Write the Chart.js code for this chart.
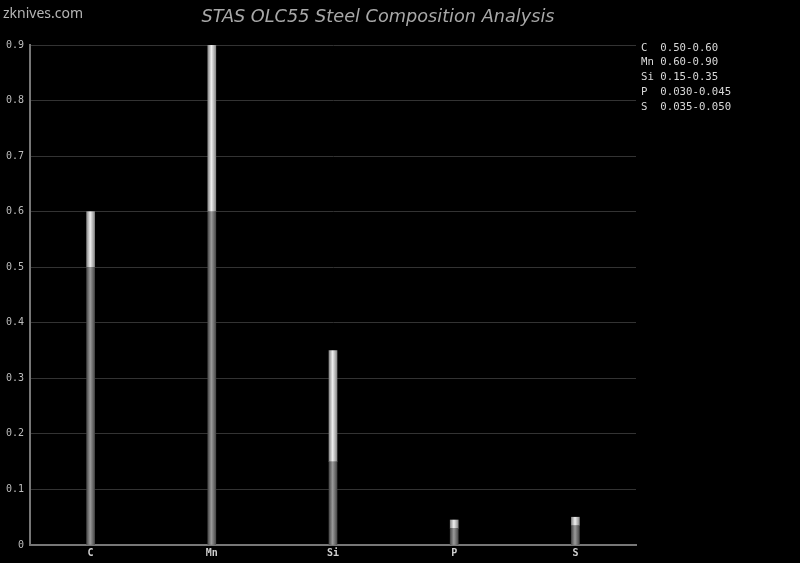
<!DOCTYPE html>
<html lang="en">
<head>
    <meta charset="UTF-8">
    <script src="https://cdn.jsdelivr.net/npm/chart.js"></script>
    <title>STAS OLC55 Steel Composition Analysis</title>
    <style>
        html, body { margin: 0; padding: 0; background: #000; }
        #wrap { width: 800px; height: 563px; position: relative; }
    </style>
</head>
<body>
    <div id="wrap"><canvas id="chart" width="800" height="563"></canvas></div>

    <script>
        // Composition ranges (wt %)
        const elements = ['C', 'Mn', 'Si', 'P', 'S'];
        const minValues = [0.50, 0.60, 0.15, 0.030, 0.035];
        const maxValues = [0.60, 0.90, 0.35, 0.045, 0.050];
        const rangeLabels = ['0.50-0.60', '0.60-0.90', '0.15-0.35', '0.030-0.045', '0.035-0.050'];
        const yTicks = [0, 0.1, 0.2, 0.3, 0.4, 0.5, 0.6, 0.7, 0.8, 0.9];

        const spreadValues = maxValues.map((v, i) => +(v - minValues[i]).toFixed(3));

        // cylinder-like shading across the bar width
        function barShade(stops) {
            return function (context) {
                const chart = context.chart;
                const xs = chart.scales.x;
                if (!xs || context.dataIndex === undefined) return stops[1];
                const cx = xs.getPixelForValue(context.dataIndex);
                if (!isFinite(cx)) return stops[1];
                const g = chart.ctx.createLinearGradient(cx - 4, 0, cx + 4, 0);
                g.addColorStop(0, stops[0]);
                g.addColorStop(0.45, stops[1]);
                g.addColorStop(1, stops[0]);
                return g;
            };
        }

        // watermark, title and range list drawn as text
        const extraText = {
            id: 'extraText',
            afterDraw(chart) {
                const ctx = chart.ctx;
                ctx.save();
                ctx.fillStyle = '#b5b5b5';
                ctx.font = '14px "Noto Sans", sans-serif';
                ctx.textAlign = 'left';
                ctx.textBaseline = 'middle';
                ctx.fillText('zknives.com', 3, 14);

                ctx.fillStyle = '#a8a8a8';
                ctx.font = 'italic 17.7px "DejaVu Sans", sans-serif';
                ctx.textAlign = 'center';
                ctx.fillText('STAS OLC55 Steel Composition Analysis', 378, 17);

                ctx.fillStyle = '#d8d8d8';
                ctx.font = '10.7px "DejaVu Sans Mono", monospace';
                ctx.textAlign = 'left';
                elements.forEach((el, i) => {
                    ctx.fillText(el.padEnd(3, ' ') + rangeLabels[i], 641, 48 + i * 14.7);
                });
                ctx.restore();
            }
        };

        new Chart(document.getElementById('chart'), {
            type: 'bar',
            data: {
                labels: elements,
                datasets: [
                    {
                        label: 'Min',
                        data: minValues,
                        backgroundColor: barShade(['#4a4a4a', '#9a9a9a']),
                        barThickness: 8
                    },
                    {
                        label: 'Range',
                        data: spreadValues,
                        backgroundColor: barShade(['#8a8a8a', '#efefef']),
                        barThickness: 8
                    }
                ]
            },
            options: {
                responsive: false,
                animation: false,
                layout: { padding: { left: 0, right: 164, top: 45, bottom: 0 } },
                plugins: {
                    legend: { display: false },
                    title: { display: false },
                    tooltip: { enabled: false }
                },
                scales: {
                    x: {
                        stacked: true,
                        grid: { display: false, drawTicks: false },
                        border: { color: '#777', width: 2 },
                        ticks: {
                            color: '#cfcfcf',
                            font: { family: '"DejaVu Sans Mono", monospace', size: 10, weight: 'bold' },
                            padding: 2
                        },
                        afterFit(scale) { scale.height = 18; }
                    },
                    y: {
                        stacked: true,
                        min: 0,
                        max: 0.9,
                        afterBuildTicks(scale) { scale.ticks = yTicks.map(v => ({ value: v })); },
                        grid: { color: '#333', drawTicks: false },
                        border: { color: '#777', width: 2 },
                        ticks: {
                            color: '#bdbdbd',
                            font: { family: '"DejaVu Sans Mono", monospace', size: 10 },
                            padding: 6,
                            callback: v => String(+v.toFixed(1))
                        },
                        afterFit(scale) { scale.width = 30; }
                    }
                }
            },
            plugins: [extraText]
        });
    </script>
</body>
</html>
